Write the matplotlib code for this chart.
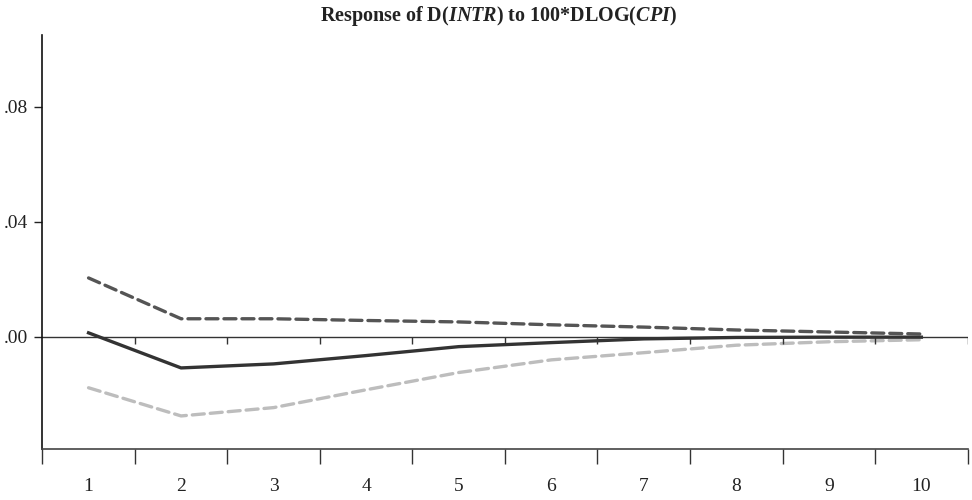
import numpy as np
import matplotlib
matplotlib.use("Agg")
import matplotlib.pyplot as plt
from matplotlib.ticker import FuncFormatter, FixedLocator

# 数据
periods = [1, 2, 3, 4, 5, 6, 7, 8, 9, 10]
response = [0.0014, -0.0108, -0.0094, -0.0065, -0.0034, -0.0020, -0.0007, -0.0002, -0.0001, -0.0001]
upper_band = [0.0205, 0.0063, 0.0063, 0.0057, 0.0052, 0.0042, 0.0034, 0.0024, 0.0017, 0.0010]
lower_band = [-0.0177, -0.0275, -0.0246, -0.0184, -0.0124, -0.0080, -0.0055, -0.0029, -0.0017, -0.0010]
y_ticks = [0.00, 0.04, 0.08]

plt.rcParams['font.family'] = ['Liberation Serif', 'DejaVu Serif']
plt.rcParams['mathtext.fontset'] = 'custom'
plt.rcParams['mathtext.rm'] = 'Liberation Serif'
plt.rcParams['mathtext.bf'] = 'Liberation Serif:bold'
plt.rcParams['mathtext.bfit'] = 'Liberation Serif:italic:bold'
plt.rcParams['mathtext.it'] = 'Liberation Serif:italic'

fig = plt.figure(figsize=(9.72, 5.0), dpi=100)
ax = fig.add_axes([0.0435, 0.102, 0.952, 0.828])

ax.plot(periods, upper_band, color='#555555', lw=2.4, ls=(0, (3.6, 1.8)), dash_capstyle='round')
ax.plot(periods, lower_band, color='#bdbdbd', lw=2.4, ls=(0, (3.6, 1.8)), dash_capstyle='round')
ax.plot(periods, response, color='#333333', lw=2.4)

ax.set_xlim(0.5, 10.5)
ax.set_ylim(-0.039, 0.105)

# 零线和零线上的刻度
ax.axhline(0, color='#333333', lw=1.0, zorder=1)
bounds = np.arange(0.5, 11.0, 1.0)
ax.vlines(bounds[1:], 0, -0.0024, color='#333333', lw=1.0)

for s in ['top', 'right']:
    ax.spines[s].set_visible(False)
ax.spines['left'].set_color('#111111')
ax.spines['bottom'].set_color('#444444')
ax.spines['left'].set_linewidth(1.2)
ax.spines['bottom'].set_linewidth(1.2)

ax.set_yticks(y_ticks)
ax.yaxis.set_major_formatter(FuncFormatter(lambda v, p: f"{v:.2f}".replace("0.", ".", 1)))
ax.tick_params(axis='y', direction='out', length=6, width=1.0, pad=4, labelsize=14, colors='#222222')

ax.xaxis.set_major_locator(FixedLocator(bounds))
ax.xaxis.set_minor_locator(FixedLocator(periods))
ax.xaxis.set_major_formatter(FuncFormatter(lambda v, p: ""))
ax.xaxis.set_minor_formatter(FuncFormatter(lambda v, p: f"{int(v)}"))
ax.tick_params(axis='x', which='major', direction='out', length=11, width=1.0, color='#333333')
ax.tick_params(axis='x', which='minor', length=0, pad=21, labelsize=14, labelcolor='#222222')

fig.text(0.513, 0.968, r'$\mathbf{Response\ of\ D(}\mathbfit{INTR}\mathbf{)\ to\ 100{*}DLOG(}\mathbfit{CPI}\mathbf{)}$',
         ha='center', va='center', fontsize=14.5, color='#222222')

plt.savefig('out.png', dpi=100)
plt.close()
